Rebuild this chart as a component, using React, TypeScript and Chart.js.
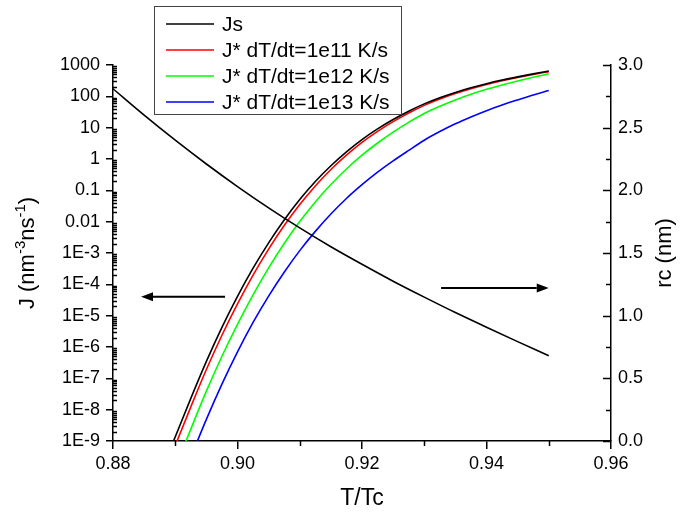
import React, { useEffect, useRef } from 'react';
import { Chart, registerables } from 'chart.js';

Chart.register(...registerables);

// ---- data ----
const T_J = [0.889, 0.8925, 0.895, 0.8975, 0.9, 0.9025, 0.905, 0.9075, 0.91, 0.9125, 0.915, 0.9175, 0.92, 0.9225, 0.925, 0.9275, 0.93, 0.9325, 0.935, 0.9375, 0.94, 0.9425, 0.945, 0.9475, 0.95];
const J_S = [4.37e-10, 2.29e-8, 3.47e-7, 4.22e-6, 4.12e-5, 3.27e-4, 2.11e-3, 1.135e-2, 5.07e-2, 0.191, 0.61, 1.7, 4.17, 9.12, 18.2, 33.5, 57.5, 90.2, 133, 187, 253, 330, 418, 520, 637];
const J_1E11 = [2.29e-10, 1.23e-8, 1.91e-7, 2.37e-6, 2.37e-5, 1.97e-4, 1.33e-3, 7.5e-3, 3.51e-2, 0.138, 0.462, 1.33, 3.39, 7.62, 15.6, 29.4, 51.5, 82.2, 123, 175, 239, 313, 399, 499, 614];
const J_1E12 = [4.37e-11, 2.4e-9, 3.89e-8, 5.07e-7, 5.31e-6, 4.62e-5, 3.35e-4, 2.02e-3, 1.01e-2, 4.27e-2, 0.153, 0.479, 1.32, 3.24, 7.24, 14.8, 28.2, 47.9, 76.7, 116, 167, 231, 310, 408, 524];
const J_1E13 = [5.5e-12, 3.02e-10, 4.9e-9, 6.53e-8, 7.0e-7, 6.1e-6, 4.22e-5, 2.43e-4, 1.19e-3, 4.9e-3, 1.76e-2, 5.5e-2, 0.151, 0.38, 0.871, 1.88, 3.98, 7.5, 13.3, 22.0, 34.9, 52.8, 76.9, 110, 153];
const T_RC = [0.88, 0.885, 0.89, 0.895, 0.9, 0.905, 0.91, 0.915, 0.92, 0.925, 0.93, 0.935, 0.94, 0.945, 0.95];
const RC = [2.81, 2.6, 2.4, 2.21, 2.03, 1.86, 1.7, 1.55, 1.41, 1.275, 1.148, 1.025, 0.908, 0.793, 0.68];

const X_TICKS = [0.88, 0.9, 0.92, 0.94, 0.96];
const X_MINOR = [0.89, 0.91, 0.93, 0.95];
const Y_TICKS = [1e-9, 1e-8, 1e-7, 1e-6, 1e-5, 1e-4, 1e-3, 0.01, 0.1, 1, 10, 100, 1000];
const Y2_TICKS = [0, 0.5, 1, 1.5, 2, 2.5, 3];
const Y2_MINOR = [0.25, 0.75, 1.25, 1.75, 2.25, 2.75];

const SERIES_NAMES = ['Js', 'J* dT/dt=1e11 K/s', 'J* dT/dt=1e12 K/s', 'J* dT/dt=1e13 K/s'];
const SERIES_COLORS = ['#000000', '#ff0000', '#00ff00', '#0000ff'];
const SERIES_VALUES = [J_S, J_1E11, J_1E12, J_1E13];

// arrows in data coordinates
const ARROW_LEFT = { from: 0.898, to: 0.8845, value: 4e-5 };   // on J axis
const ARROW_RIGHT = { from: 0.9327, to: 0.95, value: 1.22 };   // on rc axis

const FONT = "'Liberation Sans', Arial, Helvetica, sans-serif";

function fmtLog(v: number): string {
  const e = Math.round(Math.log10(v));
  if (e >= 0) return String(Math.round(v));
  if (e >= -2) return v.toFixed(-e);
  return '1E' + e;
}

function drawArrow(ctx: CanvasRenderingContext2D, x0: number, y: number, x1: number) {
  const dir = Math.sign(x1 - x0);
  const hl = 12, hw = 4.5;
  ctx.beginPath();
  ctx.moveTo(x0, y);
  ctx.lineTo(x1 - dir * hl, y);
  ctx.lineWidth = 2;
  ctx.strokeStyle = '#000';
  ctx.stroke();
  ctx.beginPath();
  ctx.moveTo(x1, y);
  ctx.lineTo(x1 - dir * hl, y - hw);
  ctx.lineTo(x1 - dir * hl, y + hw);
  ctx.closePath();
  ctx.fillStyle = '#000';
  ctx.fill();
}

const decor = {
  id: 'decor',
  afterDraw(chart: any) {
    const ctx: CanvasRenderingContext2D = chart.ctx;
    const { left, right, top, bottom } = chart.chartArea;
    const xs = chart.scales.x, ys = chart.scales.y, y2 = chart.scales.y2;
    ctx.save();
    ctx.strokeStyle = '#000';
    ctx.lineWidth = 1.5;
    // left axis minor ticks (inside)
    ctx.beginPath();
    for (let d = -9; d < 3; d++) {
      for (let k = 2; k <= 9; k++) {
        const py = Math.round(ys.getPixelForValue(k * Math.pow(10, d))) + 0.5;
        ctx.moveTo(left, py);
        ctx.lineTo(left + 4, py);
      }
    }
    ctx.stroke();
    // bottom minor ticks
    ctx.beginPath();
    X_MINOR.forEach((v) => {
      const px = Math.round(xs.getPixelForValue(v)) + 0.5;
      ctx.moveTo(px, bottom);
      ctx.lineTo(px, bottom + 5);
    });
    ctx.stroke();
    // right axis ticks (inside)
    ctx.beginPath();
    Y2_TICKS.forEach((v) => {
      const py = Math.round(y2.getPixelForValue(v)) + 0.5;
      ctx.moveTo(right, py);
      ctx.lineTo(right - 8, py);
    });
    Y2_MINOR.forEach((v) => {
      const py = Math.round(y2.getPixelForValue(v)) + 0.5;
      ctx.moveTo(right, py);
      ctx.lineTo(right - 5, py);
    });
    ctx.stroke();

    // arrows
    drawArrow(ctx, xs.getPixelForValue(ARROW_LEFT.from), ys.getPixelForValue(ARROW_LEFT.value), xs.getPixelForValue(ARROW_LEFT.to));
    drawArrow(ctx, xs.getPixelForValue(ARROW_RIGHT.from), y2.getPixelForValue(ARROW_RIGHT.value), xs.getPixelForValue(ARROW_RIGHT.to));

    // axis titles
    ctx.fillStyle = '#000';
    ctx.font = `23px ${FONT}`;
    ctx.textAlign = 'center';
    ctx.textBaseline = 'alphabetic';
    ctx.fillText('T/Tc', (left + right) / 2, 505);

    // rc (nm)
    ctx.save();
    ctx.translate(671, (top + bottom) / 2);
    ctx.rotate(-Math.PI / 2);
    ctx.font = `22px ${FONT}`;
    ctx.textAlign = 'center';
    ctx.fillText('rc (nm)', 0, 0);
    ctx.restore();

    // J (nm^-3 ns^-1)
    ctx.save();
    ctx.translate(34, (top + bottom) / 2);
    ctx.rotate(-Math.PI / 2);
    const parts = [
      { t: 'J (nm', sup: false },
      { t: '-3', sup: true },
      { t: 'ns', sup: false },
      { t: '-1', sup: true },
      { t: ')', sup: false },
    ];
    const mainFont = `22px ${FONT}`, supFont = `15px ${FONT}`;
    let total = 0;
    parts.forEach((p) => { ctx.font = p.sup ? supFont : mainFont; total += ctx.measureText(p.t).width; });
    let cx = -total / 2;
    ctx.textAlign = 'left';
    parts.forEach((p) => {
      ctx.font = p.sup ? supFont : mainFont;
      ctx.fillText(p.t, cx, p.sup ? -9 : 0);
      cx += ctx.measureText(p.t).width;
    });
    ctx.restore();

    // legend
    const lx = 154, ly = 6, lw = 247, lh = 108;
    ctx.fillStyle = '#ffffff';
    ctx.fillRect(lx, ly, lw, lh);
    ctx.strokeStyle = '#444';
    ctx.lineWidth = 1;
    ctx.strokeRect(lx + 0.5, ly + 0.5, lw, lh);
    ctx.font = `21px ${FONT}`;
    ctx.textAlign = 'left';
    ctx.textBaseline = 'middle';
    SERIES_NAMES.forEach((name, i) => {
      const yy = 24 + 26 * i;
      ctx.beginPath();
      ctx.moveTo(166, yy);
      ctx.lineTo(214, yy);
      ctx.strokeStyle = SERIES_COLORS[i];
      ctx.lineWidth = 1.5;
      ctx.stroke();
      ctx.fillStyle = '#000';
      ctx.fillText(name, 222, yy + 1);
    });
    ctx.restore();
  },
};

export default function App() {
  const ref = useRef<HTMLCanvasElement | null>(null);
  useEffect(() => {
    if (!ref.current) return;
    Chart.defaults.font.family = FONT;
    Chart.defaults.color = '#000';
    const datasets: any[] = SERIES_VALUES.map((vals, i) => ({
      label: SERIES_NAMES[i],
      data: T_J.map((t, j) => ({ x: t, y: vals[j] })),
      borderColor: SERIES_COLORS[i],
      borderWidth: 1.6,
      pointRadius: 0,
      cubicInterpolationMode: 'monotone',
      yAxisID: 'y',
      clip: 0,
    }));
    datasets.unshift({
      label: 'rc',
      data: T_RC.map((t, j) => ({ x: t, y: RC[j] })),
      borderColor: '#000000',
      borderWidth: 1.6,
      pointRadius: 0,
      cubicInterpolationMode: 'monotone',
      yAxisID: 'y2',
      clip: 0,
    });
    const chart = new Chart(ref.current, {
      type: 'line',
      data: { datasets },
      options: {
        animation: false,
        responsive: false,
        devicePixelRatio: 1,
        layout: { padding: { top: 65, left: 0, right: 0, bottom: 0 } },
        plugins: { legend: { display: false }, tooltip: { enabled: false } },
        scales: {
          x: {
            type: 'linear',
            position: 'bottom',
            min: 0.88,
            max: 0.96,
            afterBuildTicks: (s: any) => { s.ticks = X_TICKS.map((v) => ({ value: v })); },
            afterFit: (s: any) => { s.height = 72; },
            ticks: {
              callback: (v: any) => Number(v).toFixed(2),
              font: { size: 18 },
              color: '#000',
              padding: 4,
              maxRotation: 0,
              autoSkip: false,
            },
            grid: { drawOnChartArea: false, drawTicks: true, tickLength: 8, color: '#000', lineWidth: 1.5 },
            border: { display: true, color: '#000', width: 1.5 },
          },
          y: {
            type: 'logarithmic',
            position: 'left',
            min: 1e-9,
            max: 1000,
            afterBuildTicks: (s: any) => { s.ticks = Y_TICKS.map((v) => ({ value: v })); },
            afterFit: (s: any) => { s.width = 113; },
            ticks: {
              callback: (v: any) => fmtLog(Number(v)),
              font: { size: 18 },
              color: '#000',
              padding: 6,
              autoSkip: false,
            },
            grid: { drawOnChartArea: false, drawTicks: true, tickLength: 7, color: '#000', lineWidth: 1.5 },
            border: { display: true, color: '#000', width: 1.5 },
          },
          y2: {
            type: 'linear',
            position: 'right',
            min: 0,
            max: 3,
            afterBuildTicks: (s: any) => { s.ticks = Y2_TICKS.map((v) => ({ value: v })); },
            afterFit: (s: any) => { s.width = 83; },
            ticks: {
              callback: (v: any) => Number(v).toFixed(1),
              font: { size: 18 },
              color: '#000',
              padding: 7,
              autoSkip: false,
            },
            grid: { drawOnChartArea: false, drawTicks: false, color: '#000', lineWidth: 1.5 },
            border: { display: true, color: '#000', width: 1.5 },
          },
        },
      } as any,
      plugins: [decor],
    });
    return () => chart.destroy();
  }, []);
  return (
    <div style={{ position: 'absolute', left: 0, top: 0, width: 694, height: 513, background: '#fff' }}>
      <canvas ref={ref} width={694} height={513} style={{ display: 'block' }} />
    </div>
  );
}
